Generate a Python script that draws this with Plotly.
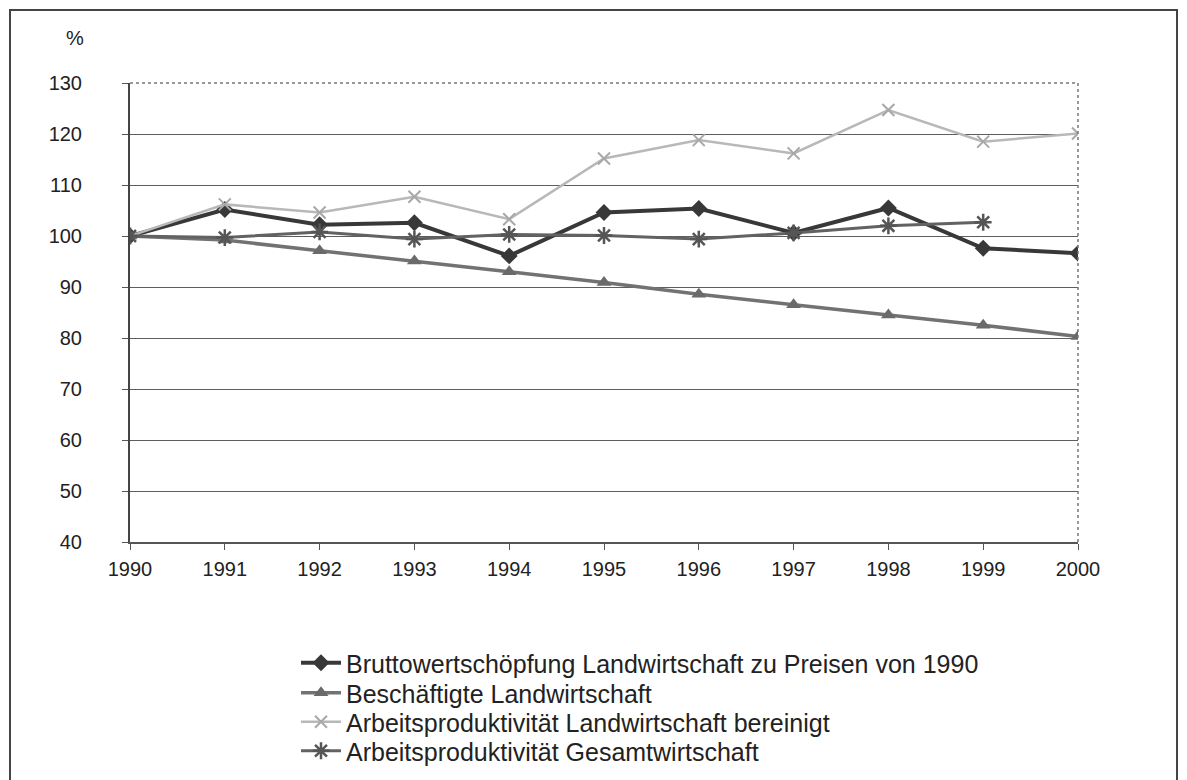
import plotly.graph_objects as go

years = [1990, 1991, 1992, 1993, 1994, 1995, 1996, 1997, 1998, 1999, 2000]
brutto = [100, 105.2, 102.2, 102.6, 96.1, 104.6, 105.4, 100.6, 105.5, 97.6, 96.6]
beschaeftigte = [100, 99.2, 97.1, 95.1, 93.0, 90.9, 88.6, 86.5, 84.5, 82.5, 80.3]
prod_landw = [100, 106.2, 104.6, 107.7, 103.3, 115.2, 118.8, 116.2, 124.7, 118.5, 120.1]
prod_gesamt = [100, 99.7, 100.8, 99.4, 100.3, 100.1, 99.4, 100.6, 102.0, 102.7]

names = [
    "Bruttowertschöpfung Landwirtschaft zu Preisen von 1990",
    "Beschäftigte Landwirtschaft",
    "Arbeitsproduktivität Landwirtschaft bereinigt",
    "Arbeitsproduktivität Gesamtwirtschaft",
]
y_ticks = [40, 50, 60, 70, 80, 90, 100, 110, 120, 130]

OFF = 8  # page body margin
W, H = 1187 - OFF, 780 - OFF
L, T = 130 - OFF, 83 - OFF
R = W - (1078 - OFF)
B = H - (542 - OFF)
pw, ph = W - L - R, H - T - B

def px_x(p):
    return (p - OFF - L) / pw

def px_y(p):
    return (H - B - (p - OFF)) / ph

fig = go.Figure()
fig.add_trace(go.Scatter(x=years, y=brutto, name=names[0], mode="lines+markers", legend="legend",
                         line=dict(color="#383838", width=4),
                         marker=dict(symbol="diamond", size=13, color="#383838")))
fig.add_trace(go.Scatter(x=years, y=beschaeftigte, name=names[1], mode="lines+markers", legend="legend2",
                         line=dict(color="#727272", width=3.5),
                         marker=dict(symbol="triangle-up", size=13, color="#6a6a6a")))
fig.add_trace(go.Scatter(x=years, y=prod_landw, name=names[2], mode="lines+markers", legend="legend3",
                         line=dict(color="#b8b8b8", width=2.5),
                         marker=dict(symbol="x-thin", size=12, line=dict(color="#a8a8a8", width=2))))
fig.add_trace(go.Scatter(x=years[:len(prod_gesamt)], y=prod_gesamt, name=names[3], mode="lines+markers",
                         legend="legend4",
                         line=dict(color="#626262", width=3),
                         marker=dict(symbol="asterisk", size=14, line=dict(color="#555555", width=2.5))))

font = "Liberation Sans, Arial, sans-serif"

def leg(ycenter):
    return dict(x=px_x(296), y=px_y(ycenter), xanchor="left", yanchor="middle",
                font=dict(size=25, color="#222222"), bgcolor="rgba(0,0,0,0)",
                itemwidth=40)

fig.update_layout(
    width=W, height=H,
    margin=dict(l=L, r=R, t=T, b=B, autoexpand=False),
    paper_bgcolor="white", plot_bgcolor="white",
    font=dict(family=font, color="#222222", size=20),
    showlegend=True,
    legend=leg(663), legend2=leg(693), legend3=leg(722), legend4=leg(751),
    xaxis=dict(range=[1990, 2000], tickmode="array", tickvals=years,
               ticktext=[str(y) for y in years], showgrid=False, zeroline=False,
               showline=True, linecolor="#555555", linewidth=2,
               ticks="outside", ticklen=6, tickcolor="#555555",
               ticklabelstandoff=2, tickfont=dict(size=20)),
    yaxis=dict(range=[40, 130], tickmode="array", tickvals=y_ticks,
               showgrid=True, gridcolor="#5e5e5e", gridwidth=1.4, zeroline=False,
               showline=True, linecolor="#444444", linewidth=2,
               ticks="outside", ticklen=6, tickcolor="#555555",
               ticklabelstandoff=36, tickfont=dict(size=20)),
)

# dotted top and right borders of the plot area
fig.add_shape(type="line", xref="x domain", yref="y domain", x0=0, x1=1, y0=1, y1=1,
              line=dict(color="#777777", width=1.5, dash="dot"))
fig.add_shape(type="line", xref="x domain", yref="y domain", x0=1, x1=1, y0=0, y1=1,
              line=dict(color="#777777", width=1.5, dash="dot"))
# outer frame
fig.add_shape(type="rect", xref="paper", yref="paper",
              x0=px_x(10), x1=px_x(1177), y0=px_y(820), y1=px_y(10),
              line=dict(color="#444444", width=2), fillcolor="rgba(0,0,0,0)", layer="below")

fig.add_annotation(text="%", xref="paper", yref="paper", x=px_x(86), y=px_y(38),
                   xanchor="right", yanchor="middle", showarrow=False,
                   font=dict(size=20, color="#222222"))

fig.write_html("out.html")
